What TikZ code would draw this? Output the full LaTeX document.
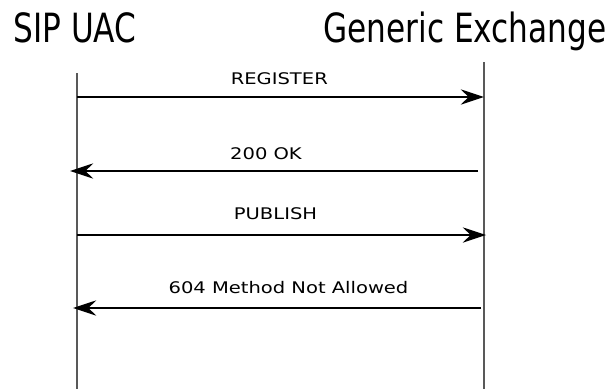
\documentclass[tikz,border=0pt]{standalone}
\usepackage{fontspec}
\setmainfont{DejaVu Sans}
\newfontfamily\titlefont{DejaVu Sans Condensed}[FakeStretch=0.86]
\newfontfamily\labelfont{DejaVu Sans}[FakeStretch=1.22]
\usetikzlibrary{arrows.meta}
\begin{document}
\begin{tikzpicture}[x=0.75pt,y=-0.75pt,
  lifeline/.style={draw=black!65, line width=0.8pt},
  msg/.style={draw=black, line width=1pt, -{Stealth[length=17.5pt,width=11.5pt,inset=6pt]}},
  msglabel/.style={font=\labelfont\fontsize{12pt}{14pt}\selectfont, inner sep=0pt, anchor=base},
  title/.style={font=\titlefont\fontsize{30.2pt}{34pt}\selectfont, inner sep=0pt, anchor=base}]
\useasboundingbox[fill=white] (0,0) rectangle (610,389);
\node[title] (uac) at (75,42.7) {SIP UAC};
\node[title] (gx) at (465,42.7) {Generic Exchange};
\coordinate (ua) at (77,73);
\coordinate (ub) at (77,389);
\coordinate (ga) at (484,62);
\coordinate (gb) at (484,389);
\draw[lifeline] (ua) -- (ub);
\draw[lifeline] (ga) -- (gb);
% messages
\coordinate (r1) at (77,97);   \coordinate (r2) at (484,97);
\coordinate (o1) at (478,171); \coordinate (o2) at (70,171);
\coordinate (p1) at (77,235);  \coordinate (p2) at (486,235);
\coordinate (m1) at (481,308); \coordinate (m2) at (73,308);
\draw[msg] (r1) -- (r2);
\draw[msg] (o1) -- (o2);
\draw[msg] (p1) -- (p2);
\draw[msg] (m1) -- (m2);
\node[msglabel] (lr) at (279.3,84) {REGISTER};
\node[msglabel] (lo) at (266,159) {200 OK};
\node[msglabel] (lp) at (275.5,219.5) {PUBLISH};
\node[msglabel] (lm) at (288.5,293.7) {604 Method Not Allowed};
\end{tikzpicture}
\end{document}
